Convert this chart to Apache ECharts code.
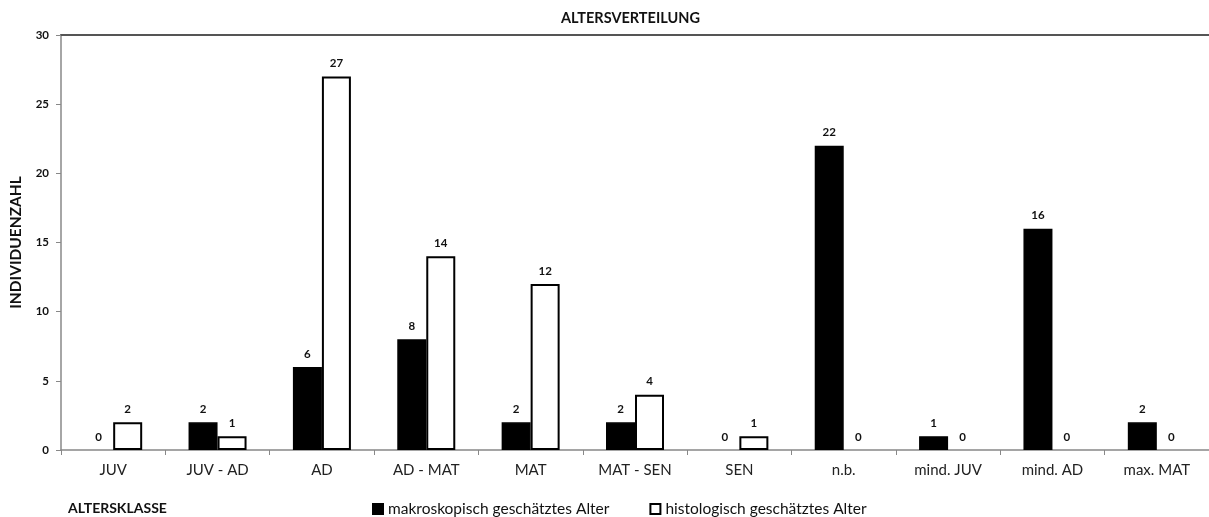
<!DOCTYPE html>
<html><head><meta charset="utf-8">
<script src="https://cdn.jsdelivr.net/npm/echarts@6/dist/echarts.min.js"></script>
<style>html,body{margin:0;padding:0;background:#fff}#c{width:1209px;height:517px}</style>
</head><body><div id="c"></div>
<script>
const categories = ['JUV','JUV - AD','AD','AD - MAT','MAT','MAT - SEN','SEN','n.b.','mind. JUV','mind. AD','max. MAT'];
const makroskopisch = [0,2,6,8,2,2,0,22,1,16,2];
const histologisch = [2,1,27,14,12,4,1,0,0,0,0];
const yTicks = [0,5,10,15,20,25,30];
const FONT = 'Lato';
const chart = echarts.init(document.getElementById('c'));
const lbl = {show:true, position:'top', distance:7, fontFamily:FONT, fontWeight:'bold', fontSize:11.5, color:'#111'};
const hideZero = arr => arr.map(v => v === 0 ? {value:v, itemStyle:{borderWidth:0, opacity:0}, label:{opacity:1}} : v);
chart.setOption({
  animation:false,
  title:[
    {text:'ALTERSVERTEILUNG', left:556, top:6, textStyle:{fontFamily:FONT, fontWeight:'bold', fontSize:14.5, color:'#111'}},
    {text:'ALTERSKLASSE', left:63, top:496, textStyle:{fontFamily:FONT, fontWeight:'bold', fontSize:14, color:'#111'}}
  ],
  legend:{
    left:367, top:496, itemWidth:10, itemHeight:10, itemGap:40,
    textStyle:{fontFamily:FONT, fontSize:15.5, color:'#111'},
    data:[{name:'makroskopisch geschätztes Alter', icon:'rect'},{name:'histologisch geschätztes Alter', icon:'rect'}]
  },
  grid:{left:59, right:0, top:35, bottom:67},
  xAxis:[{
    type:'category', data:categories,
    axisLine:{lineStyle:{color:'#888', width:1.5}},
    axisTick:{show:true, alignWithLabel:false, length:5, lineStyle:{color:'#888'}},
    axisLabel:{fontFamily:FONT, fontSize:15, color:'#222', margin:13}
  },{
    type:'category', data:categories, position:'top',
    axisLine:{show:true, lineStyle:{color:'#555', width:2}},
    axisTick:{show:false}, axisLabel:{show:false}
  }],
  yAxis:{
    type:'value', min:yTicks[0], max:yTicks[yTicks.length-1], interval:5,
    name:'INDIVIDUENZAHL', nameLocation:'middle', nameGap:37, nameRotate:90,
    nameTextStyle:{fontFamily:FONT, fontWeight:'bold', fontSize:15.5, color:'#111'},
    axisLine:{show:true, lineStyle:{color:'#888', width:1.5}},
    axisTick:{show:true, length:5, lineStyle:{color:'#888'}},
    axisLabel:{fontFamily:FONT, fontWeight:'bold', fontSize:11.5, color:'#111', margin:12},
    splitLine:{show:false}
  },
  series:[
    {name:'makroskopisch geschätztes Alter', type:'bar', data:hideZero(makroskopisch), barWidth:29, barGap:'0%',
     itemStyle:{color:'#000', borderColor:'#000', borderWidth:1.5}, label:lbl},
    {name:'histologisch geschätztes Alter', type:'bar', data:hideZero(histologisch), barWidth:29,
     itemStyle:{color:'#fff', borderColor:'#000', borderWidth:2}, label:lbl}
  ]
});
</script></body></html>
